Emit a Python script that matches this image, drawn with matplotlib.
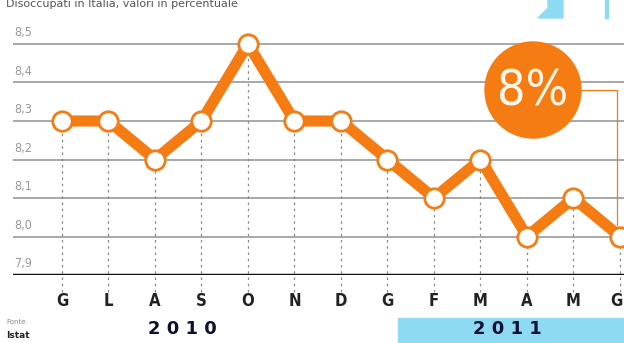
import matplotlib
matplotlib.use('Agg')
import matplotlib.pyplot as plt
import matplotlib.patches as patch
import numpy as np

# dati: tasso di disoccupazione (%), giugno 2010 - giugno 2011
mesi = ['G', 'L', 'A', 'S', 'O', 'N', 'D', 'G', 'F', 'M', 'A', 'M', 'G']
valori = [8.3, 8.3, 8.2, 8.3, 8.5, 8.3, 8.3, 8.2, 8.1, 8.2, 8.0, 8.1, 8.0]
yticks = [7.9, 8.0, 8.1, 8.2, 8.3, 8.4, 8.5]
ylabels = ['7,9', '8,0', '8,1', '8,2', '8,3', '8,4', '8,5']
anni = ['2 0 1 0', '2 0 1 1']
ultimo = '8%'

orange = '#f47c12'
narrow = ['Liberation Sans Narrow', 'DejaVu Sans']

W, H = 624, 343
fig = plt.figure(figsize=(W / 100, H / 100), dpi=100)

# axes in pixel geometry
left_px, right_px, top_px, bot_px = 13, 624, 20, 275
ax = fig.add_axes([left_px / W, (H - bot_px) / H,
                   (right_px - left_px) / W, (bot_px - top_px) / H])
step = 46.5
x0 = 62
ax.set_xlim((left_px - x0) / step, (right_px - x0) / step)
ppu = (275 - 44) / 0.6
ax.set_ylim(7.9, 8.5 + (44 - top_px) / ppu)
ax.axis('off')
ax.set_clip_on(False)

x = np.arange(len(mesi))

# gridlines
for v, lab in zip(yticks, ylabels):
    if v == 7.9:
        ax.axhline(v, color='#111111', lw=2.5, zorder=3)
    else:
        ax.axhline(v, color='#a8a8a8', lw=1.4, zorder=1)
    ax.text(-1.02, v + 0.012, lab, fontsize=9, color='#999999',
            family=narrow, fontstretch='condensed', ha='left', va='bottom')

# vertical dashed guides
for xi, v in zip(x, valori):
    ax.plot([xi, xi], [7.855, v], color='#8a8a8a', lw=0.9,
            ls=(0, (2, 3)), zorder=1, clip_on=False)

# line
ax.plot(x, valori, color=orange, lw=8, solid_joinstyle='miter', zorder=4)
ax.plot(x, valori, ls='none', marker='o', ms=14, mfc='white',
        mec=orange, mew=2, zorder=5)

# big 8% bubble with connector
cx, cy = (533 - x0) / step, 8.5 - (90 - 44) / ppu
ax.plot([cx, x[-1] - 0.06, x[-1] - 0.06], [cy, cy, valori[-1] + 0.03],
        color=orange, lw=0.9, zorder=2)
ax.add_patch(patch.Ellipse((cx, cy), 96 / step, 96 / ppu, color=orange, zorder=6))
ax.text(cx, cy - 0.005, ultimo, color='#fff6e8', fontsize=36, ha='center',
        va='center', family=narrow, fontstretch='condensed', zorder=7)

# month labels
for xi, m in zip(x, mesi):
    fig.text(min(x0 + xi * step, 616) / W, 1 - 301 / H, m, fontsize=12,
             family=narrow, fontstretch='condensed', fontweight='bold',
             color='#222222', ha='center', va='center')

# year band
fig.patches.append(patch.Rectangle((398 / W, 0), (W - 398) / W, 25 / H,
                                   transform=fig.transFigure, color='#8fdaf3',
                                   zorder=0))
fig.text(182 / W, 1 - 329 / H, anni[0], fontsize=13, fontweight='heavy',
         color='#0d1030', ha='center', va='center')
fig.text(507 / W, 1 - 329 / H, anni[1], fontsize=13, fontweight='heavy',
         color='#0d1030', ha='center', va='center')

# source
fig.text(6 / W, 1 - 322 / H, 'Fonte', fontsize=5, color='#888888',
         ha='left', va='center', family=narrow)
fig.text(6 / W, 1 - 336 / H, 'Istat', fontsize=6.5, fontweight='bold',
         color='#222222', ha='left', va='center', family=narrow)

# cut-off title and decoration at top
fig.text(6 / W, 1 - 4 / H, 'Disoccupati in Italia, valori in percentuale',
         fontsize=8, color='#555555', ha='left', va='center')
fig.patches.append(patch.Polygon([(538 / W, 1 - 18 / H), (548 / W, 1 - 8 / H),
                                  (548 / W, 1.0), (563 / W, 1.0),
                                  (563 / W, 1 - 18 / H)],
                                 transform=fig.transFigure, color='#8fdaf3'))
fig.patches.append(patch.Rectangle((605 / W, 1 - 18 / H), 3 / W, 18 / H,
                                   transform=fig.transFigure, color='#8fdaf3'))

fig.savefig('out.png', dpi=100)
